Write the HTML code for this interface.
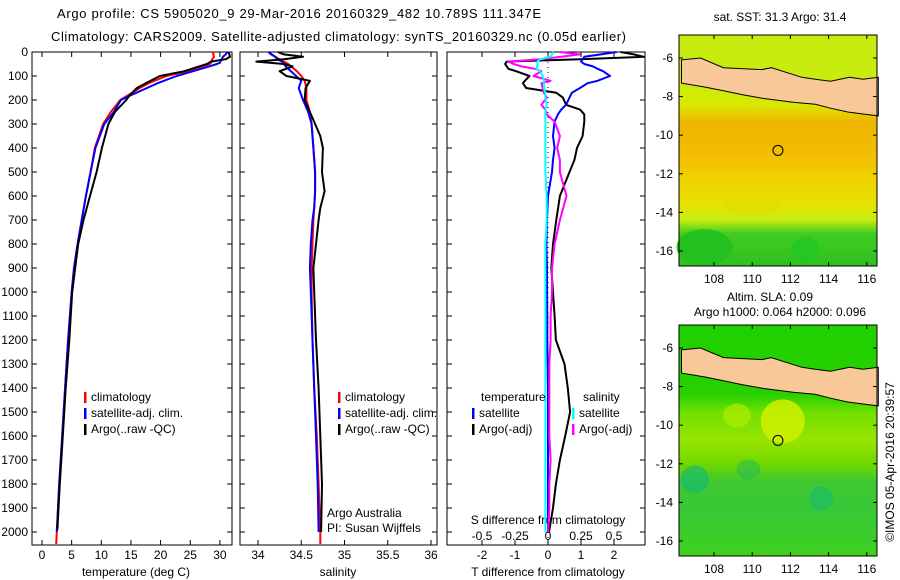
<!DOCTYPE html>
<html><head><meta charset="utf-8"><style>
html,body{margin:0;padding:0;background:#fff;}
svg{display:block;font-family:"Liberation Sans",sans-serif;}
text{font-size:12px;fill:#000;}
</style></head><body>
<svg id="fig" width="900" height="580" viewBox="0 0 900 580" xmlns="http://www.w3.org/2000/svg">
<text x="57" y="18" textLength="484" style="font-size:13px">Argo profile: CS 5905020_9 29-Mar-2016 20160329_482 10.789S 111.347E</text>
<text x="51" y="41" textLength="575" style="font-size:13px">Climatology: CARS2009. Satellite-adjusted climatology: synTS_20160329.nc (0.05d earlier)</text>
<g id="g"></g>
</svg>
<script>
// ---- profile data ----
const depthClimT = [0,10,20,30,45,50,60,80,100,130,150,180,200,250,300,400,500,600,700,800,900,1000,1200,1400,1600,1800,2000,2050];
const climT = [28.8,28.9,29,28.7,28.5,28.3,27,24.5,21,18,16.5,14.5,13.2,11.6,10.3,8.9,8.2,7.4,6.7,6.0,5.4,5.0,4.4,3.9,3.4,2.9,2.5,2.4];
const satT = [31.2,31,30.5,30.3,30,29.5,28.2,25.5,22.7,19.5,17.7,15,13.3,12.1,10.5,9.0,8.2,7.4,6.7,6.0,5.4,5.0,4.4,3.9,3.4,2.9,2.5];
const depthArgoT = [0,10,20,30,40,50,60,80,100,130,150,180,200,250,300,400,500,600,700,800,900,1000,1200,1400,1600,1800,1990];
const argoT = [31.4,31.6,31.7,31.0,28.5,27.8,26.5,24,19.9,17.5,16,14.8,14.2,12.3,11.2,10.1,9.2,8.1,7.0,6.1,5.6,5.1,4.6,4.0,3.5,3.0,2.6];

const depthS = [0,10,20,30,40,50,60,80,100,120,150,200,250,300,350,400,500,580,650,700,800,900,1000,1200,1400,1600,1800,2000,2050];
const climS = [34.12,34.15,34.2,34.25,34.3,34.35,34.38,34.45,34.5,34.54,34.56,34.56,34.6,34.62,34.63,34.64,34.66,34.66,34.65,34.64,34.63,34.62,34.62,34.63,34.65,34.68,34.7,34.72,34.72];
const satS = [34.12,34.16,34.2,34.22,34.28,34.3,34.32,34.38,34.44,34.5,34.47,34.52,34.58,34.62,34.63,34.64,34.66,34.66,34.65,34.63,34.61,34.6,34.61,34.63,34.65,34.67,34.69,34.7];
const argoS = [34.23,34.3,34.52,34.3,33.98,34.3,34.4,34.25,34.33,34.6,34.55,34.54,34.6,34.66,34.72,34.75,34.74,34.77,34.72,34.7,34.67,34.64,34.65,34.67,34.7,34.72,34.74,34.73];

const depthD = [0,10,20,30,40,50,60,70,80,100,120,130,150,170,190,220,240,260,290,350,400,450,500,600,700,800,900,1000,1100,1200,1300,1400,1500,1600,1700,1800,1900,2000];
const argoTdiff = [2.2,2.6,2.9,0.97,-1.25,-1.3,-1.25,-1.2,-0.97,-0.56,-0.7,-0.76,-0.66,0.25,0.45,0.55,0.97,1.1,1.1,1.05,0.88,0.8,0.65,0.36,0.25,0.15,0.1,0.15,0.2,0.24,0.5,0.6,0.67,0.52,0.36,0.24,0.15,0.03];
const satTdiff = [2.08,1.6,1.1,1.05,1.0,1.1,1.36,1.5,1.67,1.88,1.5,1.2,0.97,0.72,0.65,0.55,0.4,0.3,0.2,0.15,0.2,0.15,0.12,0,-0.03,-0.05,-0.03,-0.03,-0.02,-0.02,-0.01,0,0,0,0,0,0,0];
const argoSdiff = [0.09,0.24,0.1,-0.06,-0.3,-0.26,-0.2,-0.1,-0.05,-0.11,0.02,-0.05,-0.04,-0.03,-0.01,-0.05,-0.02,-0.01,0.05,0.09,0.07,0.09,0.09,0.14,0.09,0.05,0.03,0.03,0.02,0.02,0.01,0.01,0.01,0.01,0.02,0.01,0.01,0];
const satSdiff = [0.04,0.03,0.02,-0.06,-0.08,-0.08,-0.08,-0.09,-0.06,-0.04,-0.03,-0.03,-0.03,-0.02,-0.02,-0.01,-0.02,-0.02,-0.02,-0.02,-0.02,-0.02,-0.02,-0.01,-0.01,-0.02,-0.02,-0.02,-0.02,-0.02,-0.02,-0.02,-0.02,-0.02,-0.02,-0.02,-0.02,-0.02];

const depthTicks = [0,100,200,300,400,500,600,700,800,900,1000,1100,1200,1300,1400,1500,1600,1700,1800,1900,2000];
const tempTicks = [0,5,10,15,20,25,30];
const salTicks = [34,34.5,35,35.5,36];
const salTickLabels = ["34","34.5","35","35.5","36"];
const tdTicks = [-2,-1,0,1,2];
const sdTicks = [-0.5,-0.25,0,0.25,0.5];
const sdTickLabels = ["-0.5","-0.25","0","0.25","0.5"];
const latTicks = [-6,-8,-10,-12,-14,-16];
const lonTicks = [108,110,112,114,116];
const argoLon = 111.347, argoLat = -10.789;

// ---- axes functions ----
const NS = "http://www.w3.org/2000/svg";
const G = document.getElementById('g');
const yD = d => 52 + d * 0.24;
const xT = t => 42 + t * 5.93;
const xS = s => 258 + (s - 34) * 86.5;
const xTd = t => 548 + t * 33;
const xSd = s => 548 + s * 132;
const mapX = lon => 714 + (lon - 108) * 19.1;
const mapY = (lat, top) => top + (-6 - lat) * 19.3;

function el(tag, attrs, parent) {
  const e = document.createElementNS(NS, tag);
  for (const k in attrs) e.setAttribute(k, attrs[k]);
  (parent || G).appendChild(e);
  return e;
}
function txt(x, y, s, anchor, parent) {
  const t = el('text', {x: x, y: y, 'text-anchor': anchor || 'start'}, parent);
  t.textContent = s;
  return t;
}
function line(vals, depths, fx, color, name, w) {
  let d = '';
  for (let i = 0; i < vals.length; i++) d += (i ? 'L' : 'M') + fx(vals[i]).toFixed(1) + ',' + yD(depths[i]).toFixed(1);
  const p = el('path', {d: d, fill: 'none', stroke: color, 'stroke-width': w || 2, 'stroke-linejoin': 'round'});
  
  
  return p;
}
function panel(x0, x1, name) {
  const r = el('rect', {x: x0, y: 52, width: x1 - x0, height: 493, fill: 'none', stroke: '#000', 'stroke-width': 1});
  
  
}
function legendRow(x, y, color, label, name) {
  const g = el('g', {});
  
  
  el('rect', {x: x, y: y - 9, width: 2.5, height: 11, fill: color}, g);
  txt(x + 7, y, label, 'start', g);
}

panel(32, 232, 'temperature-panel');
panel(240, 437, 'salinity-panel');
panel(447, 645, 'difference-panel');

const dAx = el('g', {});


depthTicks.forEach(d => {
  txt(28, yD(d) + 4, String(d), 'end', dAx);
  [[32, 37], [227, 232], [240, 245], [432, 437], [447, 452], [640, 645]].forEach(p => el('line', {x1: p[0], x2: p[1], y1: yD(d), y2: yD(d), stroke: '#000'}, dAx));
});

const tAx = el('g', {});


tempTicks.forEach(t => {
  el('line', {x1: xT(t), x2: xT(t), y1: 545, y2: 540, stroke: '#000'}, tAx);
  el('line', {x1: xT(t), x2: xT(t), y1: 52, y2: 57, stroke: '#000'}, tAx);
  txt(xT(t), 559, String(t), 'middle', tAx);
});
const tt = txt(136, 576, 'temperature (deg C)', 'middle');



const sAx = el('g', {});


salTicks.forEach((s, i) => {
  el('line', {x1: xS(s), x2: xS(s), y1: 545, y2: 540, stroke: '#000'}, sAx);
  el('line', {x1: xS(s), x2: xS(s), y1: 52, y2: 57, stroke: '#000'}, sAx);
  txt(xS(s), 559, salTickLabels[i], 'middle', sAx);
});
const st = txt(338, 576, 'salinity', 'middle');



const dx = el('g', {});


tdTicks.forEach(t => {
  el('line', {x1: xTd(t), x2: xTd(t), y1: 545, y2: 540, stroke: '#000'}, dx);
  el('line', {x1: xTd(t), x2: xTd(t), y1: 52, y2: 57, stroke: '#000'}, dx);
  txt(xTd(t), 559, String(t), 'middle', dx);
});
sdTicks.forEach((s, i) => txt(xSd(s), 540, sdTickLabels[i], 'middle', dx));
const dt = txt(548, 576, 'T difference from climatology', 'middle');


const sdt = txt(548, 524, 'S difference from climatology', 'middle');


const zl = el('line', {x1: xTd(0), x2: xTd(0), y1: 52, y2: 545, stroke: '#000', 'stroke-dasharray': '1,4'});



line(climT, depthClimT, xT, '#f00', 'temperature-climatology-line');
line(satT, depthClimT, xT, '#00f', 'temperature-satellite-line');
line(argoT, depthArgoT, xT, '#000', 'temperature-argo-line');
line(climS, depthS, xS, '#f00', 'salinity-climatology-line');
line(satS, depthS, xS, '#00f', 'salinity-satellite-line');
line(argoS, depthS, xS, '#000', 'salinity-argo-line');
line(argoTdiff, depthD, xTd, '#000', 't-diff-argo-line');
line(satTdiff, depthD, xTd, '#00f', 't-diff-satellite-line');
line(argoSdiff, depthD, xSd, '#f0f', 's-diff-argo-line');
line(satSdiff, depthD, xSd, '#0ff', 's-diff-satellite-line');

legendRow(84, 401, '#f00', 'climatology', 'legend-climatology');
legendRow(84, 417, '#00f', 'satellite-adj. clim.', 'legend-satellite-adj');
legendRow(84, 433, '#000', 'Argo(..raw -QC)', 'legend-argo');
legendRow(338, 401, '#f00', 'climatology', 'legend-sal-climatology');
legendRow(338, 417, '#00f', 'satellite-adj. clim.', 'legend-sal-satellite-adj');
legendRow(338, 433, '#000', 'Argo(..raw -QC)', 'legend-sal-argo');
const lt = txt(481, 401, 'temperature');  
const ls = txt(583, 401, 'salinity');  
legendRow(472, 417, '#00f', 'satellite', 'legend-t-satellite');
legendRow(472, 433, '#000', 'Argo(-adj)', 'legend-t-argo');
legendRow(572, 417, '#0ff', 'satellite', 'legend-s-satellite');
legendRow(572, 433, '#f0f', 'Argo(-adj)', 'legend-s-argo');
const pi = el('g', {});  
txt(327, 517, 'Argo Australia', 'start', pi);
txt(327, 532, 'PI: Susan Wijffels', 'start', pi);

// ---- maps ----
const javaTop = [[106.3,-6.1],[107.3,-6.0],[108.5,-6.5],[110.5,-6.6],[111.0,-6.5],[112.6,-7.0],[113.3,-7.1],[114.1,-7.2],[115.1,-7.0],[115.8,-7.1],[116.6,-7.0]];
const javaBot = [[116.6,-9.0],[115.8,-8.9],[115.0,-8.8],[114.1,-8.6],[113.3,-8.4],[112.2,-8.3],[110.6,-8.1],[109.5,-7.9],[108.5,-7.7],[107.5,-7.5],[106.3,-7.3]];
function drawMap(top, name, bands, blobs) {
  const g = el('g', {});
  
  
  const id = name + '-grad';
  const defs = el('defs', {}, g);
  const lg = el('linearGradient', {id: id, x1: 0, y1: 0, x2: 0, y2: 1}, defs);
  bands.forEach(b => el('stop', {offset: b[0], 'stop-color': b[1]}, lg));
  el('rect', {x: 679, y: top, width: 198, height: 231, fill: 'url(#' + id + ')'}, g);
  blobs.forEach(b => el('ellipse', {cx: mapX(b[0]), cy: mapY(b[1], top + 23), rx: b[2], ry: b[3], fill: b[4], opacity: b[5]}, g));
  const pts = javaTop.concat(javaBot).map(p => mapX(p[0]).toFixed(1) + ',' + mapY(p[1], top + 23).toFixed(1)).join(' ');
  const land = el('polygon', {points: pts, fill: '#f8c898', stroke: '#000', 'stroke-width': 1}, g);
  
  
  el('rect', {x: 679, y: top, width: 198, height: 231, fill: 'none', stroke: '#000'}, g);
  latTicks.forEach(l => {
    const y = mapY(l, top + 23);
    el('line', {x1: 679, x2: 683, y1: y, y2: y, stroke: '#000'}, g);
    el('line', {x1: 873, x2: 877, y1: y, y2: y, stroke: '#000'}, g);
    txt(673, y + 4, String(l), 'end', g);
  });
  lonTicks.forEach(l => {
    const x = mapX(l);
    el('line', {x1: x, x2: x, y1: top, y2: top + 4, stroke: '#000'}, g);
    el('line', {x1: x, x2: x, y1: top + 231, y2: top + 227, stroke: '#000'}, g);
    txt(x, top + 248, String(l), 'middle', g);
  });
  const c = el('circle', {cx: mapX(argoLon), cy: mapY(argoLat, top + 23), r: 5, fill: 'none', stroke: '#000'}, g);
  
  
}
drawMap(35, 'sst-map', [[0,'#c8ec10'],[0.2,'#c8ec10'],[0.3,'#d8e800'],[0.38,'#f0b400'],[0.5,'#f2bc00'],[0.62,'#f0d000'],[0.72,'#e8e000'],[0.8,'#c8ec10'],[0.86,'#40cc20'],[1,'#30c020']],
  [[107.5,-15.8,28,18,'#20c020',0.9],[112.8,-15.9,14,12,'#20c820',0.8],[110,-13.6,30,10,'#e8d800',0.5]]);
drawMap(325, 'sla-map', [[0,'#20d000'],[0.3,'#28d000'],[0.38,'#70e000'],[0.5,'#98e400'],[0.6,'#70d800'],[0.68,'#40c830'],[0.8,'#38c838'],[1,'#40d020']],
  [[111.6,-9.8,22,22,'#d0f000',0.85],[109.2,-9.5,14,12,'#b0ec00',0.7],[107,-12.8,14,14,'#10b878',0.6],[113.6,-13.8,12,12,'#10b878',0.5],[109.8,-12.3,12,10,'#20b860',0.5]]);

const t1 = txt(780, 21, 'sat. SST: 31.3 Argo: 31.4', 'middle');  
const t2 = txt(770, 301, 'Altim. SLA: 0.09', 'middle');  
const t3 = txt(780, 316, 'Argo h1000: 0.064 h2000: 0.096', 'middle');  
const cr = txt(0, 0, '©IMOS 05-Apr-2016 20:39:57', 'middle');
cr.setAttribute('transform', 'translate(894,462) rotate(-90)');


</script>
</body></html>
